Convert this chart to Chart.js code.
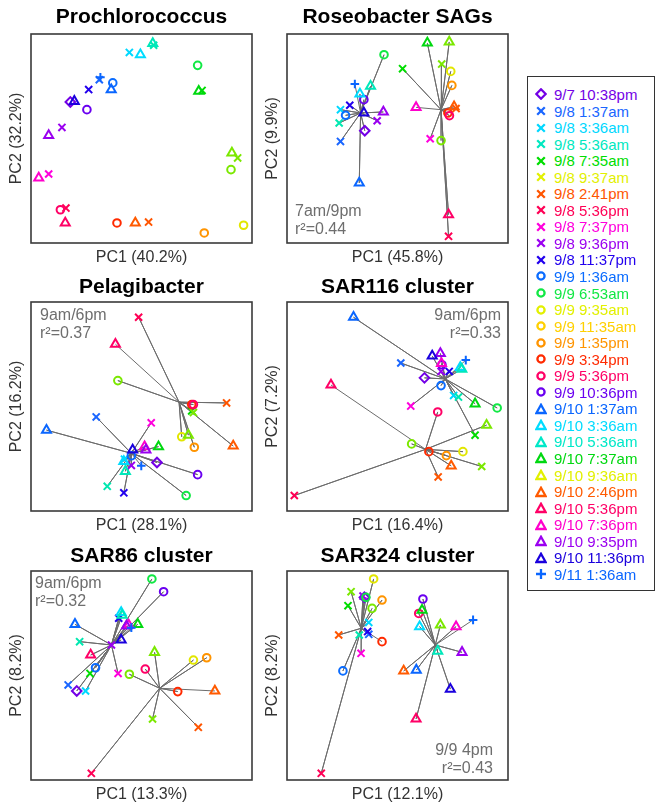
<!DOCTYPE html>
<html><head><meta charset="utf-8">
<script src="https://cdn.jsdelivr.net/npm/chart.js@4/dist/chart.umd.min.js"></script>
<style>
body{margin:0;background:#fff;width:657px;height:808px;position:relative;overflow:hidden;font-family:"Liberation Sans",Arial,sans-serif;}
canvas{position:absolute;}
.note{position:absolute;color:#6e6e6e;font-size:16px;line-height:18px;white-space:nowrap;}
#legend{position:absolute;left:527px;top:76px;width:128px;border:1.5px solid #333;box-sizing:border-box;padding:9.2px 0 7px 0;background:#fff;}
.li{height:16.55px;display:flex;align-items:center;font-size:15px;white-space:nowrap;}
.li svg{margin-left:7px;margin-right:7px;flex:none;}
</style></head><body>
<canvas id="c0" width="260" height="270" style="left:0;top:0"></canvas>
<canvas id="c1" width="260" height="270" style="left:256px;top:0"></canvas>
<canvas id="c2" width="260" height="270" style="left:0;top:268px"></canvas>
<canvas id="c3" width="260" height="270" style="left:256px;top:268px"></canvas>
<canvas id="c4" width="260" height="270" style="left:0;top:537px"></canvas>
<canvas id="c5" width="260" height="270" style="left:256px;top:537px"></canvas>
<div class="note" style="left:295px;top:202px">7am/9pm<br>r²=0.44</div>
<div class="note" style="left:40px;top:306px">9am/6pm<br>r²=0.37</div>
<div class="note" style="right:156px;top:306px;text-align:right">9am/6pm<br>r²=0.33</div>
<div class="note" style="left:35px;top:574px">9am/6pm<br>r²=0.32</div>
<div class="note" style="right:164px;top:741px;text-align:right">9/9 4pm<br>r²=0.43</div>
<div id="legend"></div>
<script>
// ---- samples ----
const samples = ["9/7 10:38pm","9/8 1:37am","9/8 3:36am","9/8 5:36am","9/8 7:35am","9/8 9:37am","9/8 2:41pm","9/8 5:36pm","9/8 7:37pm","9/8 9:36pm","9/8 11:37pm",
"9/9 1:36am","9/9 6:53am","9/9 9:35am","9/9 11:35am","9/9 1:35pm","9/9 3:34pm","9/9 5:36pm","9/9 10:36pm",
"9/10 1:37am","9/10 3:36am","9/10 5:36am","9/10 7:37am","9/10 9:36am","9/10 2:46pm","9/10 5:36pm","9/10 7:36pm","9/10 9:35pm","9/10 11:36pm","9/11 1:36am"];

// ---- Prochlorococcus ----
const prochloroX = [17.8,30.9,44.5,55.5,77.4,93.5,53.2,15.8,8.0,14.0,26.1,37.0,75.4,90.5,96.2,78.4,38.9,13.3,25.3,36.3,49.5,55.1,75.9,90.9,47.2,15.5,3.5,8.0,19.6,31.4];
const prochloroY = [67.5,78.1,91.2,94.6,73.0,40.7,10.0,16.7,33.0,55.3,73.4,76.6,85.0,35.1,8.5,4.8,9.6,15.9,63.8,73.4,90.1,95.5,72.6,43.1,9.6,9.6,31.1,51.5,67.8,79.3];

// ---- Roseobacter SAGs ----
const roseoX = [35.2,24.2,24.2,23.6,52.3,70.0,76.5,73.1,64.8,40.8,28.4,26.5,43.9,69.7,74.1,74.6,72.8,73.5,34.8,32.7,33.0,37.8,63.5,73.4,75.6,73.1,58.4,43.6,34.8,30.7];
const roseoY = [53.7,48.6,63.8,57.4,83.4,85.6,64.3,3.2,49.9,58.5,65.9,61.1,90.1,49.0,82.1,75.4,62.2,60.9,68.6,28.7,71.3,75.0,95.7,96.2,65.2,13.6,64.9,62.7,62.2,76.1];
const roseoGroup = [0,0,0,0,1,1,1,1,1,0,0,0,0,1,1,1,1,1,0,0,0,0,1,1,1,1,1,0,0,0];
const roseoCentX = [33.3,69.7], roseoCentY = [62.2,63.8];

// ---- Pelagibacter ----
const pelagiX = [57.0,29.5,42.3,34.5,72.7,73.5,88.5,48.7,54.4,45.4,42.0,45.4,70.2,39.3,68.2,73.9,72.7,73.5,75.4,7.0,42.0,42.7,57.7,71.2,91.5,38.2,51.4,52.0,46.0,49.9];
const pelagiY = [23.2,45.0,24.8,11.8,47.9,47.1,51.7,92.7,42.2,21.8,8.7,26.4,7.4,62.4,35.5,30.5,50.9,50.9,17.4,38.7,23.7,19.0,30.8,36.3,31.1,79.8,30.8,29.2,29.2,21.6];
const pelagiGroup = [1,1,1,1,0,0,0,0,1,1,1,1,1,0,0,0,0,0,1,1,1,1,1,0,0,0,1,1,1,1];
const pelagiCentX = [67.0,45.4], pelagiCentY = [52.1,27.6];

// ---- SAR116 cluster ----
const sar116X = [62.2,51.5,75.4,77.6,85.1,88.1,68.4,3.3,56.0,69.7,73.4,69.7,95.1,56.4,79.6,72.1,64.2,68.2,70.1,30.1,78.4,79.1,85.1,90.3,74.3,19.9,69.9,69.4,65.7,80.9];
const sar116Y = [63.7,70.8,55.3,54.5,36.3,21.3,16.3,7.4,50.2,66.8,66.8,60.0,49.3,32.1,28.4,26.5,28.4,47.4,70.0,92.7,68.7,67.9,51.3,41.1,21.6,60.3,70.6,75.4,74.2,72.2];
const sar116Group = [0,0,0,0,0,1,1,1,0,0,0,0,0,1,1,1,1,1,0,0,0,0,0,1,1,1,0,0,0,0];
const sar116CentX = [71.6,62.7], sar116CentY = [63.2,29.5];

// ---- SAR86 cluster ----
const sar86X = [20.7,16.8,24.7,22.0,26.7,55.0,75.7,27.3,39.4,36.4,39.7,29.2,54.7,44.5,73.5,79.5,66.4,51.7,60.0,19.9,40.8,41.2,48.3,55.9,83.2,27.0,44.2,43.2,40.8,45.4];
const sar86Y = [42.6,45.5,42.6,66.2,51.0,29.2,25.2,3.2,51.0,64.6,77.4,53.7,96.2,50.6,57.4,58.5,42.3,53.1,90.1,74.5,80.2,78.9,74.5,61.1,42.6,59.8,74.2,73.7,67.0,72.9];
const sar86Group = [0,0,0,0,0,1,1,1,0,0,0,0,0,1,1,1,1,1,0,0,0,0,0,1,1,0,0,0,0,0];
const sar86CentX = [36.4,58.2], sar86CentY = [64.6,43.9];

// ---- SAR324 cluster ----
const sar324X = [35.0,37.0,37.0,32.7,27.6,29.0,23.4,15.5,33.5,34.4,36.5,25.3,35.7,38.5,39.2,43.0,43.0,59.6,61.5,58.5,60.0,68.2,61.1,69.4,52.8,58.4,76.5,79.2,73.9,84.2];
const sar324Y = [87.4,69.7,75.4,69.4,83.4,90.1,69.4,3.2,60.6,88.0,71.0,52.2,87.4,82.1,96.2,86.1,66.2,79.7,86.6,52.6,73.4,61.7,81.3,74.2,52.2,29.2,73.4,61.1,43.5,76.6];
const sar324Group = [0,0,0,0,0,0,0,0,0,0,0,0,0,0,0,0,0,1,1,1,1,1,1,1,1,1,1,1,1,1];
const sar324CentX = [33.6,67.1], sar324CentY = [72.6,64.6];

// ---- styles ----
const markerStyle = ["rectRot","crossRot","crossRot","crossRot","crossRot","crossRot","crossRot","crossRot","crossRot","crossRot","crossRot",
"circle","circle","circle","circle","circle","circle","circle","circle",
"triangle","triangle","triangle","triangle","triangle","triangle","triangle","triangle","triangle","triangle","cross"];
const plotColors = ["#7300e6","#1a66ff","#00d8ff","#00e8b0","#00dd00","#7be800","#ff5500","#ff0055","#ff00dd","#9a00f0","#2200ee",
"#0a6cff","#11e844","#7be800","#e2e600","#ff9400","#ff2a00","#ff0066","#6a00f0",
"#0a66ff","#00dcff","#00e8bb","#00d810","#7be800","#ff5a00","#ff0066","#ff00cc","#9a00f0","#1a00dd","#0a66ff"];
const legendColors = ["#7300e6","#1a66ff","#00d8ff","#00e8c0","#00dd00","#e2f000","#ff5500","#ff0055","#ff00dd","#9a00f0","#2200ee",
"#0a6cff","#11e844","#e2f000","#ffd000","#ff9400","#ff2a00","#ff0066","#6a00f0",
"#0a66ff","#00dcff","#00e8c8","#00d810","#e2f000","#ff5a00","#ff0066","#ff00cc","#9a00f0","#1a00dd","#0a66ff"];
const radiusFor = {rectRot:4.8, crossRot:5, circle:3.8, triangle:5.2, cross:4.3};

const boxPlugin = {
  id:'box',
  afterDraw(chart){
    const a = chart.chartArea, ctx = chart.ctx;
    ctx.save(); ctx.strokeStyle = '#3a3a3a'; ctx.lineWidth = 1.6;
    ctx.strokeRect(a.left, a.top, a.right - a.left, a.bottom - a.top);
    ctx.restore();
  }
};

function makeChart(id, title, xTitle, yTitle, xs, ys, groups, cx, cy, titlePad){
  const pts = xs.map((x,i)=>({x:x, y:ys[i]}));
  const datasets = [{
    data: pts,
    pointStyle: markerStyle,
    pointRadius: markerStyle.map(s=>radiusFor[s]),
    pointBorderColor: plotColors,
    pointBackgroundColor: 'rgba(255,255,255,0)',
    pointBorderWidth: 2,
    showLine: false
  }];
  if (groups){
    cx.forEach((c,g)=>{
      const star = [];
      groups.forEach((gg,i)=>{ if (gg===g){ star.push({x:cx[g], y:cy[g]}); star.push(pts[i]); } });
      datasets.push({data: star, showLine: true, borderColor:'#6c6c6c', borderWidth:1, pointRadius:0, fill:false});
    });
  }
  const axisTitleFont = {family:'"Liberation Sans", Arial, sans-serif', size:16};
  new Chart(document.getElementById(id), {
    type: 'scatter',
    data: {datasets},
    plugins: [boxPlugin],
    options: {
      responsive:false, animation:false, devicePixelRatio:1, events:[],
      layout:{padding:{left:0, right:8, top:0, bottom:0}},
      plugins:{
        legend:{display:false}, tooltip:{enabled:false},
        title:{display:true, fullSize:false, text:title, color:'#000', padding:{top:titlePad, bottom:8.8 - titlePad},
               font:{family:'"Liberation Sans", Arial, sans-serif', size:21, weight:'bold'}}
      },
      scales:{
        x:{type:'linear', min:0, max:100, ticks:{display:false}, grid:{display:false, drawTicks:false}, border:{display:false},
           title:{display:true, text:xTitle, color:'#333', font:axisTitleFont, padding:{top:4.9, bottom:2.9}}},
        y:{type:'linear', min:0, max:100, ticks:{display:false}, grid:{display:false, drawTicks:false}, border:{display:false},
           title:{display:true, text:yTitle, color:'#333', font:axisTitleFont, padding:{top:7.4, bottom:4.4}}}
      }
    }
  });
}

makeChart('c0','Prochlorococcus','PC1 (40.2%)','PC2 (32.2%)',prochloroX,prochloroY,null,null,null,5);
makeChart('c1','Roseobacter SAGs','PC1 (45.8%)','PC2 (9.9%)',roseoX,roseoY,roseoGroup,roseoCentX,roseoCentY,5);
makeChart('c2','Pelagibacter','PC1 (28.1%)','PC2 (16.2%)',pelagiX,pelagiY,pelagiGroup,pelagiCentX,pelagiCentY,7);
makeChart('c3','SAR116 cluster','PC1 (16.4%)','PC2 (7.2%)',sar116X,sar116Y,sar116Group,sar116CentX,sar116CentY,7);
makeChart('c4','SAR86 cluster','PC1 (13.3%)','PC2 (8.2%)',sar86X,sar86Y,sar86Group,sar86CentX,sar86CentY,7);
makeChart('c5','SAR324 cluster','PC1 (12.1%)','PC2 (8.2%)',sar324X,sar324Y,sar324Group,sar324CentX,sar324CentY,7);

// ---- legend ----
function markerSvg(style, color){
  const s = 'stroke="'+color+'" stroke-width="2.3" fill="none"';
  let inner = '';
  if (style==='rectRot') inner = '<polygon points="6,1.3 10.7,6 6,10.7 1.3,6" '+s+'/>';
  else if (style==='crossRot') inner = '<path d="M2.2,2.2L9.8,9.8M9.8,2.2L2.2,9.8" '+s+'/>';
  else if (style==='circle') inner = '<circle cx="6" cy="6" r="3.6" '+s+'/>';
  else if (style==='triangle') inner = '<polygon points="6,1.8 10.6,10 1.4,10" '+s+'/>';
  else inner = '<path d="M6,1L6,11M1,6L11,6" '+s+'/>';
  return '<svg width="12" height="12" viewBox="0 0 12 12">'+inner+'</svg>';
}
const leg = document.getElementById('legend');
leg.innerHTML = samples.map((t,i)=>'<div class="li" style="color:'+legendColors[i]+'">'+markerSvg(markerStyle[i], legendColors[i])+'<span>'+t+'</span></div>').join('');
</script>
</body></html>
